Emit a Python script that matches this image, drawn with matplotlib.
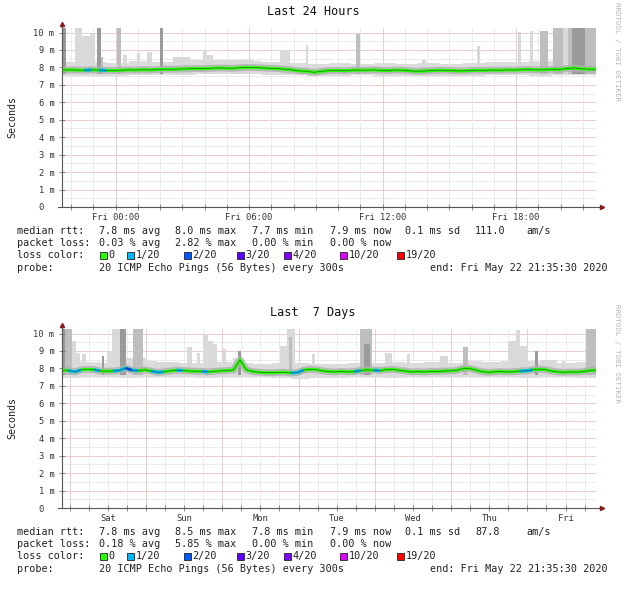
import numpy as np
import pandas as pd
import matplotlib
matplotlib.use("Agg")
import matplotlib.pyplot as plt
from matplotlib.patches import Rectangle

plt.rcParams['font.family'] = 'DejaVu Sans Mono'

END = pd.Timestamp("2020-05-22 21:35:30")

# ---- Last 24 Hours: median rtt (ms), one value every 20 minutes ----
median_24h = [
    7.85, 7.86, 7.85, 7.84, 7.86, 7.85,
    7.83, 7.82, 7.84, 7.86, 7.85, 7.87, 7.86,
    7.88, 7.90, 7.89, 7.91, 7.92, 7.94,
    7.93, 7.95, 7.97, 7.96, 7.95, 7.98, 8.00, 7.99,
    7.97, 7.95, 7.93, 7.90, 7.86, 7.80, 7.78,
    7.72, 7.78, 7.82, 7.83, 7.81, 7.84, 7.85,
    7.84, 7.86, 7.83, 7.82, 7.85, 7.84, 7.80, 7.78,
    7.80, 7.82, 7.84, 7.83, 7.81, 7.80, 7.82, 7.84,
    7.83, 7.85, 7.84, 7.86, 7.85, 7.87, 7.88, 7.86,
    7.87, 7.89, 7.88, 7.93, 7.97, 7.92, 7.90, 7.90,
]
# lost pings (of 20) per median segment, only where > 0
loss_24h = {3: 1, 5: 1}
# smoke band (hourly)
band_lo_24h = [7.50, 7.52, 7.50, 7.55, 7.55, 7.58, 7.60, 7.62, 7.60, 7.58, 7.55, 7.50,
               7.52, 7.55, 7.52, 7.50, 7.52, 7.50, 7.52, 7.55, 7.55, 7.52, 7.55, 7.55]
band_hi_24h = [8.30, 8.30, 8.25, 8.35, 8.30, 8.40, 8.45, 8.40, 8.35, 8.30, 8.25, 8.20,
               8.25, 8.20, 8.25, 8.20, 8.25, 8.20, 8.25, 8.30, 8.30, 8.35, 8.40, 8.40]
# outlier pings: (from hour, to hour, top ms, pings high: 1 few .. 3 many)
spikes_24h = [
    (0.00, 0.18, 11.0, 3), (0.58, 0.90, 11.0, 1), (0.90, 1.26, 9.8, 1),
    (1.26, 1.48, 10.0, 1), (1.57, 1.75, 11.0, 3), (1.75, 1.84, 8.6, 2),
    (2.47, 2.65, 11.0, 2), (2.74, 2.92, 8.7, 1), (3.37, 3.51, 8.8, 1),
    (3.82, 4.04, 8.9, 1), (4.40, 4.54, 11.0, 3), (4.99, 5.75, 8.6, 1),
    (6.34, 6.52, 9.0, 1), (6.52, 6.80, 8.7, 1), (7.55, 8.65, 8.45, 1),
    (9.80, 10.25, 9.0, 1), (10.97, 11.06, 9.3, 1), (13.20, 13.40, 9.9, 2),
    (16.20, 16.35, 8.45, 1), (18.65, 18.80, 9.2, 1), (20.50, 20.63, 10.05, 1),
    (21.03, 21.17, 10.1, 1), (21.50, 21.85, 10.1, 2), (22.07, 22.50, 11.0, 2),
    (22.50, 22.74, 11.0, 1), (22.74, 22.90, 11.0, 2), (22.90, 23.50, 11.0, 3),
    (23.50, 24.00, 11.0, 2),
]

# ---- Last 7 Days: median rtt (ms), one value every 2 hours ----
median_7d = [
    7.90, 7.88, 7.80, 7.92, 7.95, 7.93, 7.86, 7.84, 7.85, 7.88,
    8.02, 7.90, 7.86, 7.92, 7.85, 7.78, 7.80, 7.86, 7.90, 7.88,
    7.85, 7.84, 7.83, 7.80, 7.84, 7.86, 7.88, 7.92, 8.50, 7.92,
    7.82, 7.78, 7.76, 7.75, 7.77, 7.78, 7.74, 7.76, 7.90, 7.95,
    7.93, 7.86, 7.82, 7.80, 7.83, 7.80, 7.82, 7.88, 7.92, 7.90,
    7.88, 7.93, 7.95, 7.90, 7.85, 7.80, 7.82, 7.80, 7.83, 7.82,
    7.85, 7.86, 7.88, 7.98, 8.00, 7.92, 7.82, 7.78, 7.80, 7.82,
    7.80, 7.81, 7.85, 7.86, 7.92, 7.95, 7.93, 7.85, 7.80, 7.78,
    7.80, 7.79, 7.82, 7.88, 7.90,
]
loss_7d = {1: 1, 2: 1, 5: 1, 8: 1, 9: 1, 10: 2, 11: 1, 14: 1, 15: 1, 18: 1,
           22: 1, 36: 1, 37: 1, 46: 1, 49: 1, 72: 1, 73: 1}
# smoke band (6-hourly)
band_lo_7d = [7.45, 7.50, 7.50, 7.48, 7.50, 7.52, 7.50, 7.48, 7.50, 7.52, 7.50, 7.45, 7.42, 7.45,
              7.48, 7.50, 7.50, 7.48, 7.50, 7.52, 7.50, 7.50, 7.52, 7.50, 7.48, 7.50, 7.50, 7.48]
band_hi_7d = [8.40, 8.35, 8.30, 8.40, 8.45, 8.35, 8.30, 8.30, 8.35, 8.30, 8.25, 8.30, 8.30, 8.25,
              8.25, 8.30, 8.30, 8.35, 8.30, 8.35, 8.30, 8.45, 8.35, 8.40, 8.40, 8.30, 8.30, 8.35]
spikes_7d = [
    (0.0, 0.9, 11.0, 3), (0.9, 3.2, 11.0, 2), (3.2, 4.4, 9.6, 1), (4.4, 5.7, 8.9, 1),
    (6.3, 7.6, 8.8, 1), (12.6, 13.2, 8.7, 3), (14.2, 15.7, 9.0, 1), (15.7, 18.2, 11.0, 1),
    (18.2, 20.1, 11.0, 3), (20.1, 22.3, 8.6, 1), (22.3, 25.5, 11.0, 2), (25.5, 26.7, 8.6, 1),
    (29.3, 37.1, 8.35, 1), (39.3, 40.9, 9.2, 1), (42.5, 43.4, 8.9, 1), (44.4, 45.9, 10.0, 1),
    (45.9, 47.5, 9.6, 1), (47.5, 48.8, 9.4, 1), (50.7, 51.6, 9.1, 1), (53.8, 55.1, 8.6, 1),
    (55.4, 56.3, 9.0, 3), (68.6, 70.8, 9.3, 1), (70.8, 73.3, 11.0, 1), (71.5, 72.5, 9.8, 2),
    (78.7, 79.6, 8.8, 1), (93.7, 97.5, 11.0, 2), (95.0, 96.8, 9.4, 3), (101.6, 103.8, 8.9, 1),
    (108.5, 109.5, 8.8, 1), (118.9, 121.4, 8.7, 1), (126.2, 127.7, 9.2, 2), (140.3, 142.8, 9.6, 1),
    (142.8, 144.1, 10.2, 1), (144.1, 146.6, 9.3, 1), (148.8, 149.8, 9.0, 3), (150.4, 155.7, 8.5, 1),
    (157.3, 158.2, 8.4, 1), (164.9, 168.0, 11.0, 2),
]

# ---- legend text ----
rtt_24h = ["7.8 ms avg", "8.0 ms max", "7.7 ms min", "7.9 ms now", "0.1 ms sd", "111.0", "am/s"]
pl_24h = ["0.03 % avg", "2.82 % max", "0.00 % min", "0.00 % now"]
rtt_7d = ["7.8 ms avg", "8.5 ms max", "7.8 ms min", "7.9 ms now", "0.1 ms sd", "87.8", "am/s"]
pl_7d = ["0.18 % avg", "5.85 % max", "0.00 % min", "0.00 % now"]
loss_labels = ["0", "1/20", "2/20", "3/20", "4/20", "10/20", "19/20"]
loss_colors = ["#26ff00", "#00b8ff", "#0059ff", "#5e00ff", "#7e00ff", "#dd00ff", "#ff0000"]
probe_text = "20 ICMP Echo Pings (56 Bytes) every 300s"
end_text = "end: Fri May 22 21:35:30 2020"

smoke_shades = {1: "#d9d9d9", 2: "#bebebe", 3: "#9a9a9a"}
W, H = 640, 589


def loss_color(n):
    if n >= 19:
        return loss_colors[6]
    if n >= 10:
        return loss_colors[5]
    if n >= 4:
        return loss_colors[4]
    return loss_colors[n]


fig = plt.figure(figsize=(W / 100, H / 100), dpi=100)


def ftext(x, y, s, **kw):
    kw.setdefault("fontsize", 7.3)
    kw.setdefault("va", "center")
    kw.setdefault("color", "#222222")
    fig.text(x / W, 1 - y / H, s, **kw)


def draw_panel(y0, title, span, median, loss, band_lo, band_hi, spikes, days, rtt, pl):
    ax = fig.add_axes([62 / W, 1 - (y0 + 207) / H, 534 / W, 179 / H])
    ax.set_xlim(0, span)
    ax.set_ylim(0, 10.26)
    for s in ax.spines.values():
        s.set_visible(False)

    start = END - pd.Timedelta(hours=span)
    # grid
    for v in np.arange(0.5, 10.26, 0.5):
        major = float(v).is_integer()
        ax.axhline(v, color="#e6c4c4" if major else "#e9e6e6", lw=0.6, zorder=0)
    if days:
        minor = pd.date_range(start.ceil("6h"), END, freq="6h")
    else:
        minor = pd.date_range(start.ceil("h"), END, freq="h")
    minor_off = [(t - start) / pd.Timedelta(hours=1) for t in minor]
    for t, off in zip(minor, minor_off):
        major = (t.hour == 0) if days else (t.hour % 6 == 0)
        ax.axvline(off, color="#e6c4c4" if major else "#e9e6e6", lw=0.6, zorder=0)

    # smoke
    edges = np.linspace(0, span, len(band_lo) + 1)
    ax.stairs(band_hi, edges, baseline=band_lo, fill=True, color="#dcdcdc", zorder=1)
    for shade in (1, 2, 3):
        sel = [s for s in spikes if s[3] == shade]
        ax.bar([s[0] for s in sel], [s[2] - 7.6 for s in sel], bottom=7.6,
               width=[s[1] - s[0] for s in sel], align="edge",
               color=smoke_shades[shade], linewidth=0, zorder=1 + shade * 0.1)

    # median, coloured by loss
    t = np.linspace(0, span, len(median))
    ax.plot(t, median, color="#b0b0b0", lw=5, alpha=0.8, zorder=2)
    ax.plot(t, median, color=loss_colors[0], lw=2.2, zorder=3)
    for i, n in loss.items():
        ax.plot(t[i:i + 2], median[i:i + 2], color=loss_color(n), lw=2.2, zorder=3.1,
                solid_capstyle="butt")
    ax.plot(t, median, color="#1a1a1a", lw=0.5, alpha=0.6, zorder=4)

    # axes lines + arrows
    ax.plot([-0.0075, 1.011], [0, 0], transform=ax.transAxes, color="#555555",
            lw=0.8, clip_on=False, zorder=5)
    ax.plot([0, 0], [0, 1.02], transform=ax.transAxes, color="#555555",
            lw=0.8, clip_on=False, zorder=5)
    ax.plot([1.011], [0], marker=">", ms=3, color="#8b1a1a", transform=ax.transAxes,
            clip_on=False, zorder=6)
    ax.plot([0], [1.025], marker="^", ms=3, color="#8b1a1a", transform=ax.transAxes,
            clip_on=False, zorder=6)

    # ticks
    yt = list(range(0, 11))
    ax.set_yticks(yt, ["0  "] + [f"{v} m" for v in yt[1:]])
    if days:
        ax.set_xticks(minor_off, [tm.strftime("%a") if tm.hour == 12 else "" for tm in minor])
    else:
        ax.set_xticks(minor_off, [tm.strftime("%a %H:%M") if tm.hour % 6 == 0 else ""
                                  for tm in minor])
    ax.tick_params(axis="both", direction="inout", length=4, width=0.6, color="#777777",
                   labelsize=6.3, labelcolor="#333333")
    ax.tick_params(axis="x", pad=2.5)
    ax.tick_params(axis="y", pad=3.5)

    ftext(313, y0 + 11.7, title, ha="center", fontsize=8.5, color="#111111")
    ftext(12, y0 + 117, "Seconds", ha="center", rotation=90, fontsize=7.2)
    ftext(617, y0 + 52, "RRDTOOL / TOBI OETIKER", ha="center", rotation=270,
          fontsize=5.3, color="#b8b8b8")

    # legend block
    r1, r2, r3, r4 = y0 + 231, y0 + 243, y0 + 255, y0 + 268
    ftext(17, r1, "median rtt:")
    for x, s in zip([99, 175, 252, 330, 405, 475, 526], rtt):
        ftext(x, r1, s)
    ftext(17, r2, "packet loss:")
    for x, s in zip([99, 175, 252, 330], pl):
        ftext(x, r2, s)
    ftext(17, r3, "loss color:")
    for bx, lab, col in zip([100, 127, 184, 237, 284, 340, 397], loss_labels, loss_colors):
        fig.patches.append(Rectangle((bx / W, 1 - (r3 + 3.5) / H), 6.5 / W, 7 / H,
                                     transform=fig.transFigure, facecolor=col,
                                     edgecolor="#222222", lw=0.6))
        ftext(bx + 8.5, r3, lab)
    ftext(17, r4, "probe:")
    ftext(99, r4, probe_text)
    ftext(430, r4, end_text)
    return ax


draw_panel(0, "Last 24 Hours", 24, median_24h, loss_24h, band_lo_24h, band_hi_24h,
           spikes_24h, False, rtt_24h, pl_24h)
draw_panel(301, "Last  7 Days", 168, median_7d, loss_7d, band_lo_7d, band_hi_7d,
           spikes_7d, True, rtt_7d, pl_7d)

fig.savefig("out.png", dpi=100)
